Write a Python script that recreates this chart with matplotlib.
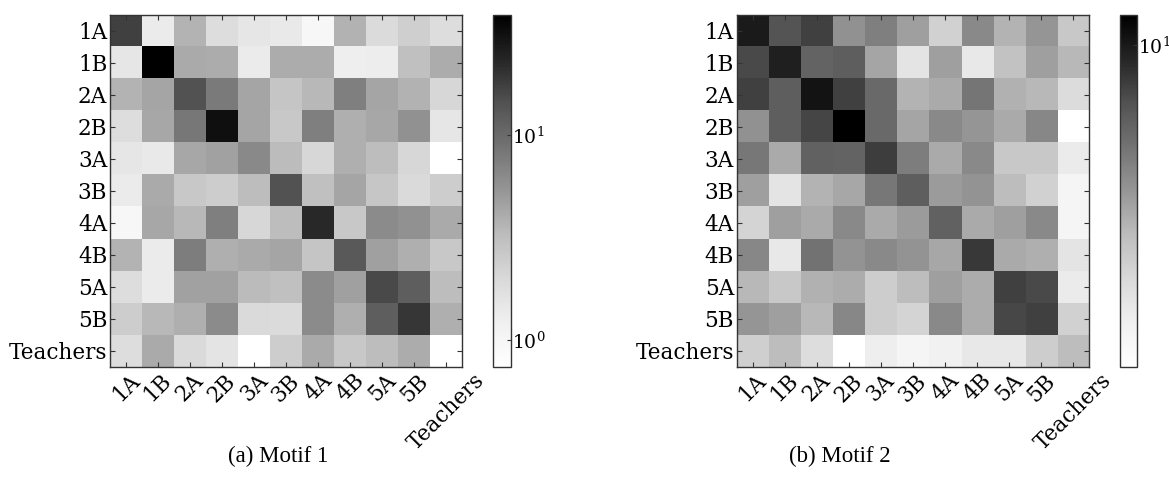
import numpy as np
import matplotlib
matplotlib.use("Agg")
import matplotlib.pyplot as plt
from matplotlib.colors import LogNorm

labels = ["1A", "1B", "2A", "2B", "3A", "3B", "4A", "4B", "5A", "5B", "Teachers"]

motif1 = [
    [17.3, 1.35, 3.65, 1.79, 1.50, 1.41, 0.96, 3.74, 1.87, 2.33, 1.79],
    [1.50, 38.5, 4.15, 4.04, 1.35, 4.04, 4.04, 1.27, 1.31, 3.10, 4.04],
    [3.65, 4.42, 14.3, 7.93, 4.42, 2.83, 3.43, 7.28, 4.42, 3.74, 2.06],
    [1.79, 4.25, 8.15, 31.4, 4.42, 2.69, 7.28, 3.89, 4.25, 5.73, 1.50],
    [1.50, 1.41, 4.25, 4.58, 6.41, 3.30, 2.06, 3.89, 3.21, 2.06, 0.74],
    [1.35, 4.15, 2.69, 2.46, 3.21, 14.3, 3.10, 4.42, 2.78, 1.95, 2.46],
    [0.96, 4.25, 3.43, 7.28, 2.06, 3.21, 22.7, 2.69, 6.15, 5.73, 4.15],
    [3.65, 1.35, 7.59, 3.89, 4.15, 4.42, 2.83, 12.7, 4.71, 3.89, 2.69],
    [1.79, 1.35, 4.58, 4.58, 3.34, 3.10, 6.15, 4.71, 15.5, 11.8, 3.21],
    [2.46, 3.43, 3.89, 6.15, 1.95, 1.87, 6.15, 3.89, 11.8, 19.3, 3.89],
    [1.79, 4.15, 1.95, 1.57, 0.74, 2.46, 4.15, 2.69, 3.21, 4.04, 0.74],
]

motif2 = [
    [9.82, 6.78, 7.71, 4.13, 4.74, 3.70, 2.44, 4.37, 3.21, 3.97, 2.69],
    [7.25, 9.53, 5.96, 6.22, 3.56, 1.99, 3.70, 1.89, 2.83, 3.70, 3.09],
    [7.71, 6.22, 10.4, 7.71, 5.71, 3.21, 3.44, 5.13, 3.25, 3.09, 2.19],
    [4.13, 6.22, 7.48, 12.1, 5.71, 3.56, 4.37, 3.97, 3.44, 4.48, 1.30],
    [5.05, 3.44, 6.06, 5.96, 7.87, 4.84, 3.44, 4.37, 2.69, 2.69, 1.82],
    [3.70, 1.99, 3.21, 3.49, 5.05, 6.22, 3.83, 4.04, 2.98, 2.44, 1.57],
    [2.39, 3.70, 3.44, 4.37, 3.44, 3.83, 6.06, 3.44, 3.70, 4.37, 1.57],
    [4.48, 1.89, 5.25, 4.04, 4.37, 4.04, 3.49, 8.05, 3.44, 3.32, 1.99],
    [3.09, 2.69, 3.25, 3.39, 2.56, 2.98, 3.70, 3.39, 7.71, 7.25, 1.82],
    [3.97, 3.70, 3.09, 4.48, 2.56, 2.39, 4.37, 3.39, 7.39, 7.71, 2.44],
    [2.48, 2.98, 2.14, 1.30, 1.76, 1.57, 1.66, 1.89, 1.89, 2.56, 2.98],
]

captions = ["(a) Motif 1", "(b) Motif 2"]

plt.rcParams['font.family'] = ['DejaVu Serif']
plt.rcParams['mathtext.fontset'] = 'stix'

W, H = 1169, 483
fig = plt.figure(figsize=(W / 100, H / 100), dpi=100)

def frac(x0, y0, x1, y1):
    return [x0 / W, 1 - y1 / H, (x1 - x0) / W, (y1 - y0) / H]

panels = [
    (motif1, frac(110, 14.7, 462, 367), frac(493, 14.7, 511, 367), 278),
    (motif2, frac(736.7, 14.7, 1089.3, 367), frac(1120, 14.7, 1137, 367), 840),
]

edge = "#333333"
for (data, apos, cpos, cx), cap in zip(panels, captions):
    arr = np.array(data)
    ax = fig.add_axes(apos)
    im = ax.imshow(arr, cmap="Greys", norm=LogNorm(vmin=arr.min(), vmax=arr.max()),
                   aspect="auto", interpolation="nearest")
    n = len(labels)
    ax.set_xticks(range(n))
    ax.set_yticks(range(n))
    ax.set_xticklabels(labels, rotation=45, ha="center", fontsize=15.5)
    ax.set_yticklabels(labels, fontsize=15.5)
    ax.tick_params(direction="in", top=True, right=True, length=3.5, width=0.8,
                   color=edge)
    ax.tick_params(axis="y", pad=2)
    ax.tick_params(axis="x", pad=2)
    for s in ax.spines.values():
        s.set_color(edge)
        s.set_linewidth(1.0)
    cax = fig.add_axes(cpos)
    cb = fig.colorbar(im, cax=cax)
    cb.ax.minorticks_off()
    cb.ax.tick_params(direction="in", length=3, width=0.8, color=edge, labelsize=13.5, pad=1)
    cb.outline.set_edgecolor(edge)
    cb.outline.set_linewidth(1.0)
    fig.text(cx / W, 1 - 456 / H, cap, ha="center", va="center",
             fontsize=16.5, family="Liberation Serif")

fig.savefig("out.png", dpi=100)
